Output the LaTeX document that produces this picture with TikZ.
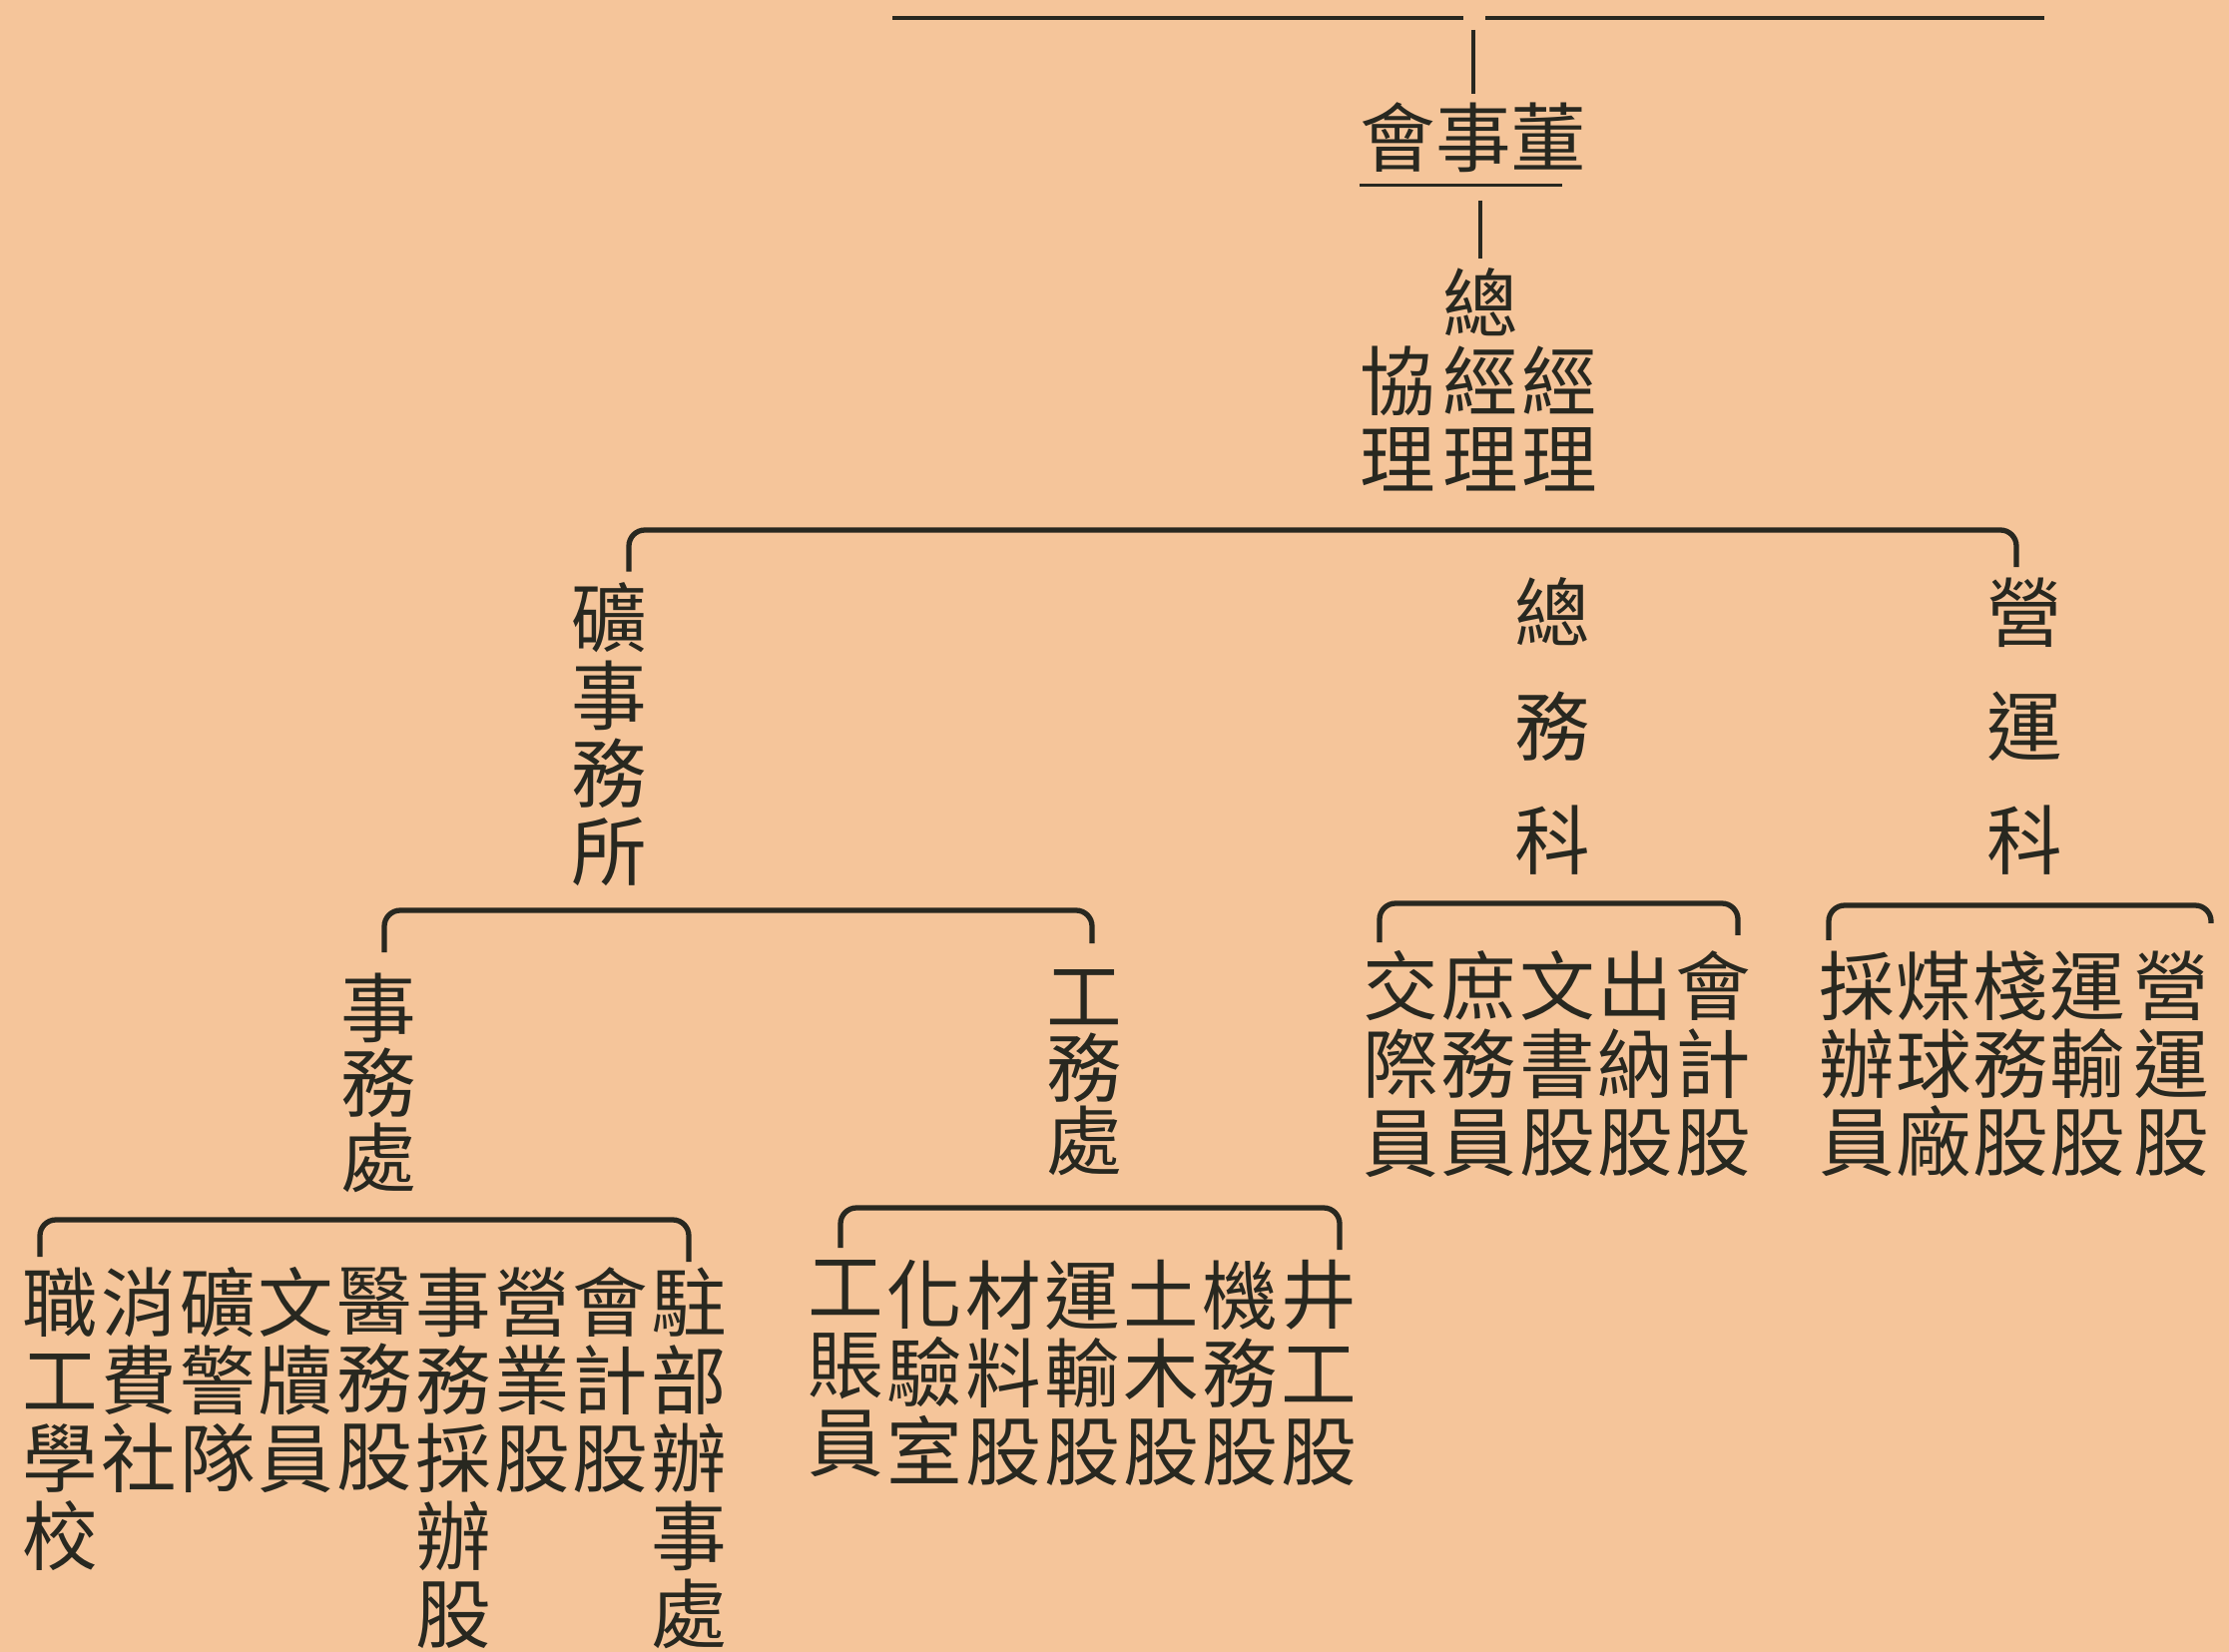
\documentclass[tikz,border=0pt]{standalone}
\usepackage{fontspec}
\usepackage{tikz}
\newfontfamily\cjk{Noto Sans CJK TC}
\definecolor{paper}{RGB}{245,197,154}
\definecolor{ink}{RGB}{40,40,32}
\setlength{\lineskiplimit}{-30pt}
\newcommand{\topstrut}{\vrule width 0pt height 0.88em depth 0pt}
\newcommand{\botstrut}{\vrule width 0pt height 0pt depth 0.12em}

\begin{document}
\begin{tikzpicture}[x=0.01cm,y=-0.01cm,
  lbl/.style={inner sep=0pt,align=center,text=ink,
    font=\cjk\fontsize{21.5}{#1}\selectfont,
    execute at begin node=\topstrut,
    execute at end node=\botstrut},
  lbl/.default=22.2,
  col/.style={lbl,anchor=north},
  bar/.style={draw=ink,line width=1.4pt},
  brk/.style={draw=ink,line width=1.5pt,rounded corners=0.16cm},
  tie/.style={draw=ink,line width=0.9pt}]
\useasboundingbox (0,0) rectangle (2233,1655);
\fill[paper] (0,0) rectangle (2233,1655);

\coordinate (ltop) at (894,18);
\coordinate (jtop) at (1476,18);
\coordinate (rtop) at (2048,18);
\draw[bar] (ltop) -- ([xshift=-0.1cm]jtop);
\draw[bar] ([xshift=0.12cm]jtop) -- (rtop);

\node[lbl] (board) at (1476,138) {會事董};
\draw[tie] ([yshift=-0.09cm]board.south west) -- ++(203,0);

\node[lbl] (gm) at (1483,383) {總\\經\\理};
\node[lbl] (vgm) at (1400,422) {協\\理};
\node[lbl] (mgr) at (1562,422) {經\\理};

\draw[tie,shorten <=0.12cm,shorten >=0.05cm] (jtop) -- (board);
\draw[tie,shorten <=0.24cm,shorten >=0.09cm] (board.south -| gm.north) -- (gm);

% second level
\node[lbl] (mine) at (610,737) {礦\\事\\務\\所};
\node[lbl=32.4] (gen) at (1555,729) {總\\務\\科};
\node[lbl=32.4] (ops) at (2028,729) {營\\運\\科};

\coordinate (b0) at (1300,531);
\draw[brk,shorten <=0.1cm,shorten >=0.1cm] ([xshift=0.2cm]mine.north) |- (b0) -| ([xshift=-0.08cm]ops.north);

\node[lbl=21.3] (off) at (379,1086) {事\\務\\處};
\node[lbl=20.5] (eng) at (1086,1076) {工\\務\\處};

\coordinate (b1) at (730,912);
\draw[brk,shorten <=0.2cm,shorten >=0.26cm] ([xshift=0.06cm]off.north) |- (b1) -| ([xshift=0.08cm]eng.north);

% 總務科
\node[col] (g1) at (1403,952) {交\\際\\員};
\node[col] (g2) at (1481,952) {庶\\務\\員};
\node[col] (g3) at (1560,952) {文\\書\\股};
\node[col] (g4) at (1638,952) {出\\納\\股};
\node[col] (g5) at (1716,952) {會\\計\\股};

\coordinate (b2) at (1560,905);
\draw[brk,shorten <=0.08cm,shorten >=0.15cm] ([xshift=-0.21cm]g1.north) |- (b2) -| ([xshift=0.25cm]g5.north);

% 營運科
\node[col] (p1) at (1860,952) {採\\辦\\員};
\node[col] (p2) at (1937,952) {煤\\球\\廠};
\node[col] (p3) at (2014,952) {棧\\務\\股};
\node[col] (p4) at (2091,952) {運\\輸\\股};
\node[col] (p5) at (2175,952) {營\\運\\股};

\coordinate (b3) at (2000,907);
\draw[brk,shorten <=0.1cm,shorten >=0.27cm] ([xshift=-0.28cm]p1.north) |- (b3) -| ([xshift=0.4cm]p5.north);

% 事務處
\node[col] (o1) at (60,1269) {職\\工\\學\\校};
\node[col] (o2) at (139,1269) {消\\費\\社};
\node[col] (o3) at (218,1269) {礦\\警\\隊};
\node[col] (o4) at (296,1269) {文\\牘\\員};
\node[col] (o5) at (375,1269) {醫\\務\\股};
\node[col] (o6) at (454,1269) {事\\務\\採\\辦\\股};
\node[col] (o7) at (533,1269) {營\\業\\股};
\node[col] (o8) at (611,1269) {會\\計\\股};
\node[col] (o9) at (690,1269) {駐\\部\\辦\\事\\處};

\coordinate (b4) at (370,1222);
\draw[brk,shorten <=0.1cm,shorten >=0.05cm] ([xshift=-0.2cm]o1.north) |- (b4) -| (o9.north);

% 工務處
\node[col] (e1) at (847,1262) {工\\賬\\員};
\node[col] (e2) at (926,1262) {化\\驗\\室};
\node[col] (e3) at (1005,1262) {材\\料\\股};
\node[col] (e4) at (1084,1262) {運\\輸\\股};
\node[col] (e5) at (1163,1262) {土\\木\\股};
\node[col] (e6) at (1242,1262) {機\\務\\股};
\node[col] (e7) at (1321,1262) {井\\工\\股};

\coordinate (b5) at (1090,1210);
\draw[brk,shorten <=0.12cm,shorten >=0.1cm] ([xshift=-0.05cm]e1.north) |- (b5) -| ([xshift=0.21cm]e7.north);

\end{tikzpicture}
\end{document}
